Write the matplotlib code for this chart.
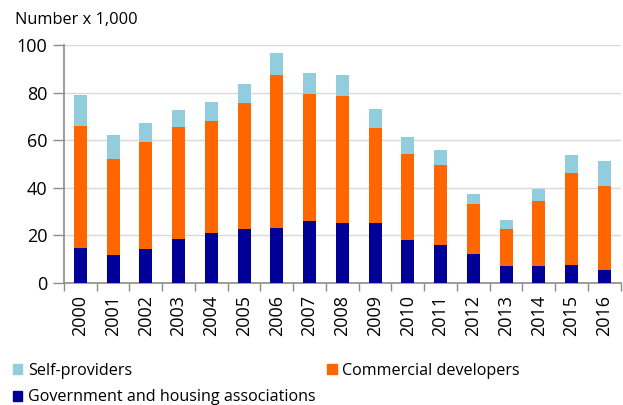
import numpy as np
import matplotlib
matplotlib.use("Agg")
import matplotlib.pyplot as plt
from matplotlib.patches import Patch

# Completed dwellings by type of builder (number x 1,000)
years = [str(y) for y in range(2000, 2017)]
government = [14.8, 11.6, 14.2, 18.3, 21.0, 22.5, 23.1, 25.8, 25.1, 25.1, 18.0, 15.8, 12.2, 7.0, 7.0, 7.6, 5.4]
commercial = [51.0, 40.6, 44.9, 47.3, 47.2, 52.9, 64.4, 53.4, 53.3, 39.8, 36.2, 33.6, 20.7, 15.7, 27.5, 38.6, 35.3]
self_providers = [13.0, 10.1, 8.2, 7.0, 8.0, 8.0, 9.3, 8.9, 8.9, 8.0, 7.0, 6.5, 4.5, 3.8, 4.7, 7.6, 10.5]

c_gov = "#000099"
c_com = "#FF6600"
c_self = "#92CDDD"
axis_grey = "#8C8C8C"

plt.rcParams["font.family"] = ["Open Sans", "DejaVu Sans"]

fig = plt.figure(figsize=(6.23, 4.05), dpi=100)
ax = fig.add_axes([0.1027, 0.302, 0.8936, 0.587])

x = np.arange(len(years))
w = 0.4
gov = np.array(government)
com = np.array(commercial)
slf = np.array(self_providers)
ax.bar(x, gov, w, color=c_gov, zorder=3)
ax.bar(x, com, w, bottom=gov, color=c_com, zorder=3)
ax.bar(x, slf, w, bottom=gov + com, color=c_self, zorder=3)

ax.set_xlim(-0.5, len(years) - 0.5)
ax.set_ylim(0, 100)
ax.set_yticks(range(0, 101, 20))
ax.tick_params(axis="y", labelsize=13, length=8, width=1, color=axis_grey, pad=4)
ax.yaxis.grid(True, color="#D9D9D9", lw=1, zorder=0)

# year labels centred on bars, tick marks between categories
ax.set_xticks(x)
ax.set_xticklabels(years, rotation=90, fontsize=13)
ax.tick_params(axis="x", length=0, pad=9)
ax.set_xticks(np.arange(-0.5, len(years) + 0.5, 1), minor=True)
ax.tick_params(axis="x", which="minor", length=6, width=1, color=axis_grey)

for side in ["top", "right"]:
    ax.spines[side].set_visible(False)
for side in ["left", "bottom"]:
    ax.spines[side].set_color(axis_grey)
    ax.spines[side].set_linewidth(1.2)

fig.text(0.024, 0.94, "Number x 1,000", fontsize=11.8, ha="left", va="baseline")

handles = [
    Patch(color=c_self, label="Self-providers"),
    Patch(color=c_gov, label="Government and housing associations"),
    Patch(color=c_com, label="Commercial developers"),
]
fig.legend(handles=handles, ncol=2, loc="lower left", bbox_to_anchor=(0.005, -0.025),
           frameon=False, fontsize=11.6, handlelength=0.6, handleheight=0.6,
           handletextpad=0.35, columnspacing=0.7, labelspacing=0.65, borderaxespad=0.2)

fig.savefig("out.png", dpi=100)
